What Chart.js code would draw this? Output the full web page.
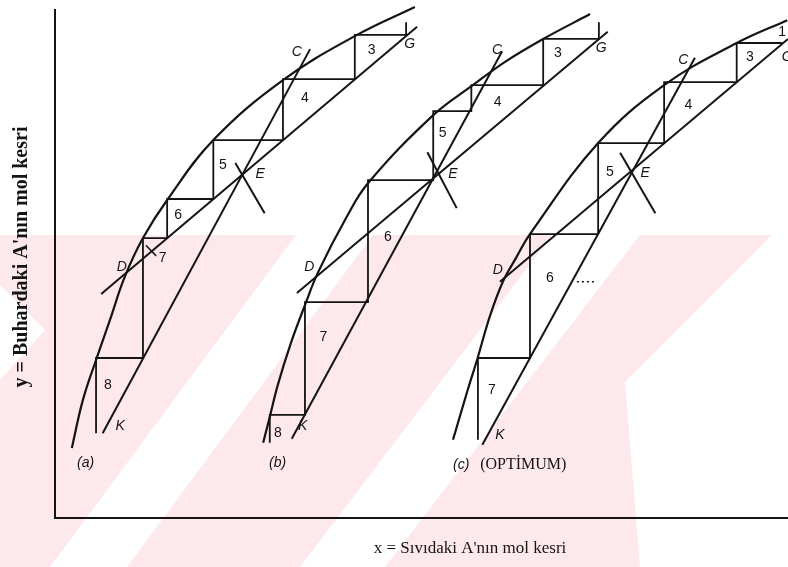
<!DOCTYPE html>
<html>
<head>
<meta charset="utf-8">
<script src="https://cdn.jsdelivr.net/npm/chart.js@4/dist/chart.umd.min.js"></script>
<style>
  html, body { margin: 0; padding: 0; background: #fff; }
  #wrap { position: relative; width: 788px; height: 567px; }
</style>
</head>
<body>
<div id="wrap"><canvas id="myChart" width="788" height="567"></canvas></div>
<script>
// ********** DATA (mol fractions) ***********
// equilibrium curves, one per diagram
let eqAx = [0.023, 0.038, 0.056, 0.075, 0.095, 0.120, 0.153, 0.216, 0.311, 0.412, 0.491];
let eqAy = [0.138, 0.232, 0.311, 0.390, 0.474, 0.551, 0.626, 0.744, 0.862, 0.951, 1.006];
let eqBx = [0.284, 0.293, 0.304, 0.321, 0.341, 0.359, 0.398, 0.427, 0.516, 0.570, 0.614, 0.666, 0.730];
let eqBy = [0.148, 0.199, 0.262, 0.341, 0.419, 0.484, 0.593, 0.659, 0.793, 0.852, 0.898, 0.943, 0.992];
let eqCx = [0.543, 0.563, 0.577, 0.593, 0.611, 0.629, 0.648, 0.741, 0.831, 0.930, 0.999];
let eqCy = [0.154, 0.252, 0.317, 0.396, 0.465, 0.512, 0.559, 0.738, 0.852, 0.935, 0.980];

// upper operating line G -> D
let topLineAx = [0.063, 0.494];
let topLineAy = [0.441, 0.967];
let topLineBx = [0.330, 0.754];
let topLineBy = [0.443, 0.957];
let topLineCx = [0.607, 1.000];
let topLineCy = [0.465, 0.943];

// lower operating line K -> C
let lowLineAx = [0.065, 0.348];
let lowLineAy = [0.167, 0.923];
let lowLineBx = [0.323, 0.610];
let lowLineBy = [0.156, 0.919];
let lowLineCx = [0.583, 0.873];
let lowLineCy = [0.144, 0.906];

// feed lines through E
let feedAx = [0.246, 0.286];
let feedAy = [0.699, 0.600];
let feedBx = [0.508, 0.548];
let feedBy = [0.720, 0.610];
let feedCx = [0.771, 0.819];
let feedCy = [0.719, 0.600];

// stage steps
let stepAx = [0.479, 0.479, 0.409, 0.409, 0.311, 0.311, 0.216, 0.216, 0.153, 0.153, 0.120, 0.120, 0.056, 0.056];
let stepAy = [0.976, 0.951, 0.951, 0.864, 0.864, 0.744, 0.744, 0.628, 0.628, 0.551, 0.551, 0.315, 0.315, 0.167];
let stepBx = [0.742, 0.742, 0.666, 0.666, 0.568, 0.568, 0.516, 0.516, 0.427, 0.427, 0.341, 0.341, 0.293, 0.293];
let stepBy = [0.976, 0.943, 0.943, 0.852, 0.852, 0.801, 0.801, 0.665, 0.665, 0.425, 0.425, 0.203, 0.203, 0.148];
let stepCx = [0.992, 0.930, 0.930, 0.831, 0.831, 0.741, 0.741, 0.648, 0.648, 0.577, 0.577];
let stepCy = [0.935, 0.935, 0.858, 0.858, 0.738, 0.738, 0.559, 0.559, 0.315, 0.315, 0.154];

// little pen marks
let crossAx = [0.124, 0.138];
let crossAy = [0.537, 0.516];
let dotsCx = [0.712, 0.737];
let dotsCy = [0.465, 0.465];

// stage numbers and point letters
let stageText = ['3', '4', '5', '6', '7', '8', '3', '4', '5', '6', '7', '8', '1', '3', '4', '5', '6', '7'];
let stageX = [0.432, 0.341, 0.229, 0.168, 0.147, 0.072, 0.686, 0.604, 0.529, 0.454, 0.366, 0.304, 0.992, 0.948, 0.864, 0.757, 0.675, 0.596];
let stageY = [0.921, 0.827, 0.695, 0.596, 0.512, 0.262, 0.915, 0.819, 0.758, 0.553, 0.356, 0.167, 0.957, 0.907, 0.813, 0.681, 0.472, 0.252];
let pointText = ['C', 'G', 'E', 'D', 'K', 'C', 'G', 'E', 'D', 'K', 'C', 'G', 'E', 'D', 'K'];
let pointX = [0.330, 0.484, 0.280, 0.091, 0.089, 0.603, 0.745, 0.543, 0.347, 0.338, 0.857, 0.999, 0.805, 0.604, 0.607];
let pointY = [0.917, 0.933, 0.677, 0.494, 0.181, 0.921, 0.925, 0.677, 0.494, 0.181, 0.902, 0.907, 0.679, 0.488, 0.163];
let caseText = ['(a)', '(b)', '(c)'];
let caseX = [0.030, 0.292, 0.543];
let caseY = [0.108, 0.108, 0.104];
let optText = '(OPTİMUM)';
let optX = 0.580;
let optY = 0.104;

let xTitle = 'x = Sıvıdaki A\'nın mol kesri';
let yTitle = 'y = Buhardaki A\'nın mol kesri';

// ********** HELPERS ***********
function toPoints(xs, ys) {
  let pts = [];
  for (let i = 0; i < xs.length; i++) {
    pts.push({ x: xs[i], y: ys[i] });
  }
  return pts;
}

function pen(xs, ys, extra) {
  return Object.assign({
    data: toPoints(xs, ys),
    showLine: true,
    pointRadius: 0,
    borderColor: '#141414',
    borderWidth: 2,
    clip: false
  }, extra || {});
}

let curveOpts = { tension: 0.4, borderWidth: 2.2 };

// ********** PLUGINS ***********
// pale stamp behind the plot
let stampPlugin = {
  id: 'stamp',
  beforeDraw(chart) {
    let ctx = chart.ctx;
    ctx.save();
    ctx.fillStyle = '#fff';
    ctx.fillRect(0, 0, chart.width, chart.height);
    ctx.fillStyle = '#fde8ec';
    ctx.fillRect(0, 235, chart.width, chart.height - 235);
    ctx.fillStyle = '#fff';
    let bands = [
      [[0, 285], [45, 330], [0, 380]],
      [[50, 567], [127, 567], [373, 235], [296, 235]],
      [[300, 567], [385, 567], [640, 235], [552, 235]],
      [[625, 382], [772, 235], [788, 235], [788, 567], [640, 567]]
    ];
    bands.forEach(poly => {
      ctx.beginPath();
      ctx.moveTo(poly[0][0], poly[0][1]);
      for (let i = 1; i < poly.length; i++) ctx.lineTo(poly[i][0], poly[i][1]);
      ctx.closePath();
      ctx.fill();
    });
    ctx.restore();
  }
};

let textPlugin = {
  id: 'texts',
  afterDraw(chart) {
    let ctx = chart.ctx;
    let xs = chart.scales.x;
    let ys = chart.scales.y;
    ctx.save();
    ctx.fillStyle = '#141414';
    ctx.textAlign = 'center';
    ctx.textBaseline = 'middle';

    ctx.font = '14px "Liberation Sans"';
    for (let i = 0; i < stageText.length; i++) {
      ctx.fillText(stageText[i], xs.getPixelForValue(stageX[i]), ys.getPixelForValue(stageY[i]));
    }
    ctx.font = 'italic 14px "Liberation Sans"';
    for (let i = 0; i < pointText.length; i++) {
      ctx.fillText(pointText[i], xs.getPixelForValue(pointX[i]), ys.getPixelForValue(pointY[i]));
    }
    ctx.textAlign = 'left';
    ctx.font = 'italic 14px "Liberation Sans"';
    for (let i = 0; i < caseText.length; i++) {
      ctx.fillText(caseText[i], xs.getPixelForValue(caseX[i]), ys.getPixelForValue(caseY[i]));
    }
    ctx.font = '16px "Liberation Serif"';
    ctx.fillText(optText, xs.getPixelForValue(optX), ys.getPixelForValue(optY));

    // axis titles
    ctx.textAlign = 'center';
    ctx.font = '17px "Liberation Serif"';
    ctx.fillText(xTitle, 470, 549);
    ctx.translate(22, 257);
    ctx.rotate(-Math.PI / 2);
    ctx.font = 'bold 20px "Liberation Serif"';
    ctx.fillText(yTitle, 0, 0);
    ctx.restore();
  }
};

// ********** CHART ***********
let ctx = document.getElementById('myChart').getContext('2d');
let myChart = new Chart(ctx, {
  type: 'scatter',
  data: {
    datasets: [
      pen(eqAx, eqAy, curveOpts),
      pen(eqBx, eqBy, curveOpts),
      pen(eqCx, eqCy, curveOpts),
      pen(topLineAx, topLineAy),
      pen(topLineBx, topLineBy),
      pen(topLineCx, topLineCy),
      pen(lowLineAx, lowLineAy),
      pen(lowLineBx, lowLineBy),
      pen(lowLineCx, lowLineCy),
      pen(feedAx, feedAy),
      pen(feedBx, feedBy),
      pen(feedCx, feedCy),
      pen(stepAx, stepAy, { borderWidth: 1.8 }),
      pen(stepBx, stepBy, { borderWidth: 1.8 }),
      pen(stepCx, stepCy, { borderWidth: 1.8 }),
      pen(crossAx, crossAy, { borderWidth: 1.5 }),
      pen(dotsCx, dotsCy, { borderWidth: 1.5, borderDash: [2, 3] })
    ]
  },
  options: {
    responsive: false,
    animation: false,
    layout: { padding: { top: 10, right: 0, left: 0, bottom: 0 } },
    plugins: { legend: { display: false }, tooltip: { enabled: false } },
    scales: {
      x: {
        type: 'linear', min: 0, max: 1,
        grid: { display: false, drawTicks: false },
        border: { display: true, color: '#141414', width: 2 },
        ticks: { display: false },
        afterFit(scale) { scale.height = 49; }
      },
      y: {
        type: 'linear', min: 0, max: 1,
        grid: { display: false, drawTicks: false },
        border: { display: true, color: '#141414', width: 2 },
        ticks: { display: false },
        afterFit(scale) { scale.width = 55; }
      }
    }
  },
  plugins: [stampPlugin, textPlugin]
});
</script>
</body>
</html>
